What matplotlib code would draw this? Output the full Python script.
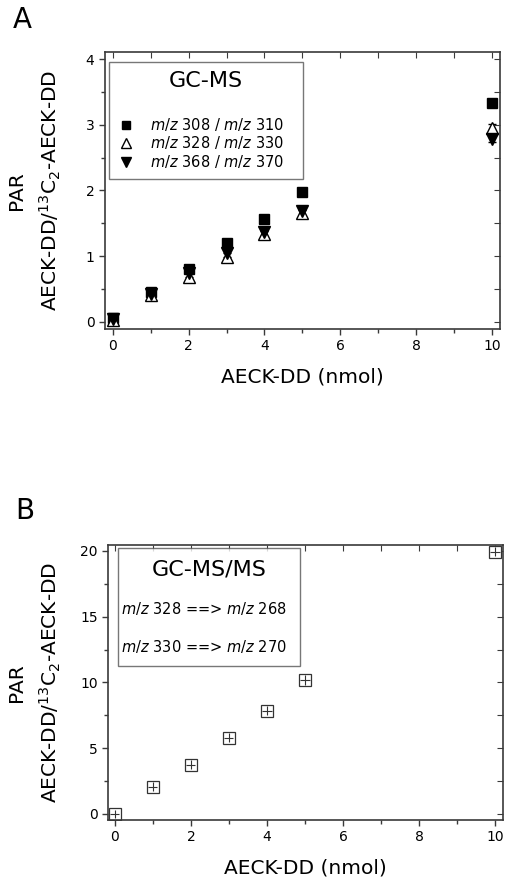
import numpy as np
import matplotlib
matplotlib.use("Agg")
import matplotlib.pyplot as plt
from matplotlib.lines import Line2D
from matplotlib.ticker import MultipleLocator

plt.rcParams['font.family'] = ['DejaVu Sans']
plt.rcParams['mathtext.fontset'] = 'dejavusans'

# data
nmol = [0, 1, 2, 3, 4, 5, 10]

# panel A, GC-MS
par_308 = [0.05, 0.46, 0.81, 1.20, 1.56, 1.97, 3.33]
err_308 = [0.03, 0.04, 0.04, 0.04, 0.04, 0.03, 0.04]
par_328 = [0.03, 0.40, 0.68, 0.98, 1.33, 1.66, 2.95]
err_328 = [0.04, 0.06, 0.07, 0.06, 0.06, 0.05, 0.06]
par_368 = [0.04, 0.43, 0.74, 1.05, 1.37, 1.68, 2.79]
err_368 = [0.04, 0.05, 0.06, 0.06, 0.06, 0.05, 0.05]

# panel B, GC-MS/MS
par_msms = [0.0, 2.08, 3.73, 5.80, 7.86, 10.19, 19.95]
err_msms = [0.3, 0.35, 0.35, 0.35, 0.35, 0.35, 0.35]

labels_a = ['$\\it{m/z}$ 308 / $\\it{m/z}$ 310',
            '$\\it{m/z}$ 328 / $\\it{m/z}$ 330',
            '$\\it{m/z}$ 368 / $\\it{m/z}$ 370']
labels_b = ['$\\it{m/z}$ 328 ==> $\\it{m/z}$ 268',
            '$\\it{m/z}$ 330 ==> $\\it{m/z}$ 270']

ylab = 'PAR\nAECK-DD/$^{13}$C$_2$-AECK-DD'
xlab = 'AECK-DD (nmol)'
spine_col = '#3a3a3a'


def style_axes(ax, ymajor, yminor, ylab_x):
    for s in ax.spines.values():
        s.set_color(spine_col)
        s.set_linewidth(1.2)
    ax.xaxis.set_major_locator(MultipleLocator(2))
    ax.xaxis.set_minor_locator(MultipleLocator(1))
    ax.yaxis.set_major_locator(MultipleLocator(ymajor))
    ax.yaxis.set_minor_locator(MultipleLocator(yminor))
    ax.tick_params(which='both', direction='out', color=spine_col, labelsize=10)
    ax.tick_params(which='major', length=4, width=1)
    ax.tick_params(which='minor', length=3, width=1)
    # inward ticks on the top and right sides
    top = ax.secondary_xaxis('top')
    top.xaxis.set_major_locator(MultipleLocator(1))
    top.tick_params(direction='in', length=4, color=spine_col, labeltop=False)
    top.spines['top'].set_visible(False)
    right = ax.secondary_yaxis('right')
    right.yaxis.set_major_locator(MultipleLocator(yminor))
    right.tick_params(direction='in', length=4, color=spine_col, labelright=False)
    right.spines['right'].set_visible(False)
    ax.set_xlabel(xlab, fontsize=14.5, labelpad=10)
    ax.set_ylabel(ylab, fontsize=14.5, linespacing=1.6)
    ax.yaxis.set_label_coords(ylab_x, 0.5)


fig = plt.figure(figsize=(5.12, 8.86), dpi=100)

# ---- panel A
ax1 = fig.add_axes([0.205, 0.6287, 0.7715, 0.3126])
ax1.errorbar(nmol, par_308, yerr=err_308, fmt='s', ms=7.5, color='black',
             ecolor='black', elinewidth=0.8, capsize=3, label=labels_a[0])
ax1.errorbar(nmol, par_328, yerr=err_328, fmt='^', ms=8.5, mfc='white', mec='black',
             color='black', ecolor='black', elinewidth=0.8, capsize=3, label=labels_a[1])
ax1.errorbar(nmol, par_368, yerr=err_368, fmt='v', ms=8.5, color='black',
             ecolor='black', elinewidth=0.8, capsize=3, label=labels_a[2])
ax1.set_xlim(-0.2, 10.2)
ax1.set_ylim(-0.11, 4.11)
style_axes(ax1, 1, 0.5, -0.106)

h, l = ax1.get_legend_handles_labels()
h = [x[0] for x in h]
leg1 = ax1.legend(h, l, title='GC-MS\n', title_fontsize=16, fontsize=10.5,
                  loc='upper left', bbox_to_anchor=(0.01, 0.0, 0.491, 0.964),
                  mode='expand', borderaxespad=0,
                  frameon=True, fancybox=False, edgecolor='#555555',
                  handlelength=1.2, handletextpad=1.0, labelspacing=0.12,
                  borderpad=0.6, markerscale=0.85)
leg1.get_frame().set_linewidth(1.0)

# ---- panel B
ax2 = fig.add_axes([0.211, 0.0745, 0.7715, 0.3104])
_, _, bars = ax2.errorbar(nmol, par_msms, yerr=err_msms, xerr=0.12, fmt='s', ms=8,
                          mfc='white', mec='#333333', ecolor='#333333', elinewidth=0.8,
                          capsize=0, mew=0.9)
for b in bars:
    b.set_zorder(3)
ax2.set_xlim(-0.18, 10.21)
ax2.set_ylim(-0.46, 20.45)
style_axes(ax2, 5, 2.5, -0.114)

hb = [Line2D([], [], linestyle='none') for _ in labels_b]
leg2 = ax2.legend(hb, labels_b, title='GC-MS/MS', title_fontsize=16, fontsize=10.5,
                  loc='upper left', bbox_to_anchor=(0.025, 0.0, 0.461, 0.989),
                  mode='expand', borderaxespad=0,
                  frameon=True, fancybox=False, edgecolor='#555555',
                  handlelength=0, handletextpad=-0.6, labelspacing=1.4,
                  borderpad=0.8)
leg2.get_frame().set_linewidth(1.0)

fig.text(13 / 512, 1 - 28 / 886, 'A', fontsize=20)
fig.text(15 / 512, 1 - 519 / 886, 'B', fontsize=20)

fig.savefig('out.png', dpi=100)
